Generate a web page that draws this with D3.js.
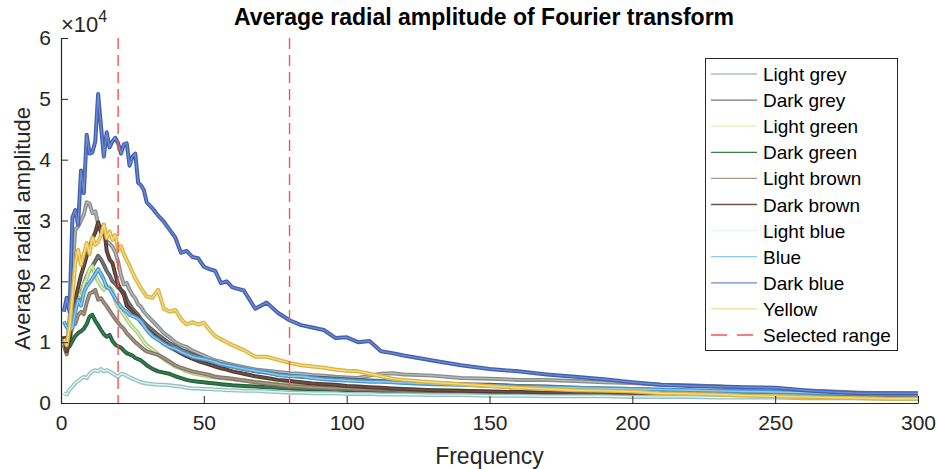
<!DOCTYPE html>
<html>
<head>
<meta charset="utf-8">
<script src="https://cdn.jsdelivr.net/npm/d3@7"></script>
<style>
  body { margin: 0; background: #fff; }
  svg { font-family: "Liberation Sans", Arial, sans-serif; }
  .line { fill: none; stroke-linejoin: round; }
</style>
</head>
<body>
<script>
// frequency samples (shared by every series)
var freq = [1,2,3,4,5,6,7,8,9,10,11,12,13,14,15,16,17,18,19,20,21,22,23,24,25,26,27,28,29,30,
  32,34,36,38,40,42,44,46,48,50,52,54,56,58,60,
  64,68,72,76,80,84,88,92,96,100,104,108,112,116,120,
  130,140,150,160,170,180,190,200,210,220,230,240,250,260,270,280,290,300];

// average radial amplitude, in units of 1e4
var lightGrey = [1.0,0.9,1.4,2.2,2.85,2.9,3.0,3.1,3.3,3.28,3.12,3.15,2.95,2.88,2.78,2.66,2.62,2.57,2.48,2.32,2.1,1.95,1.97,1.86,1.78,1.72,1.62,1.58,1.5,1.45,
  1.35,1.25,1.15,1.08,1.0,0.95,0.92,0.86,0.82,0.78,0.74,0.7,0.68,0.65,0.63,
  0.59,0.55,0.53,0.51,0.49,0.48,0.46,0.45,0.43,0.42,0.41,0.45,0.48,0.49,0.47,
  0.45,0.41,0.4,0.38,0.38,0.36,0.34,0.33,0.3,0.29,0.27,0.24,0.22,0.2,0.19,0.17,0.16,0.15];
var darkGrey = [1.05,0.9,1.0,1.3,1.55,1.7,1.8,1.95,2.08,2.18,2.25,2.33,2.42,2.36,2.27,2.17,2.1,2.0,1.96,1.9,1.86,1.82,1.7,1.62,1.55,1.5,1.45,1.38,1.33,1.28,
  1.2,1.12,1.05,0.98,0.93,0.88,0.84,0.8,0.76,0.72,0.7,0.67,0.64,0.62,0.6,
  0.56,0.52,0.5,0.47,0.45,0.43,0.42,0.41,0.4,0.39,0.38,0.37,0.36,0.35,0.35,
  0.33,0.31,0.3,0.28,0.27,0.25,0.24,0.23,0.21,0.2,0.19,0.18,0.17,0.16,0.15,0.14,0.13,0.12];
var lightGreen = [1.0,0.85,1.0,1.3,1.6,1.8,1.75,1.95,2.05,2.2,2.25,2.1,2.0,1.92,1.86,1.94,1.9,1.84,1.68,1.58,1.52,1.45,1.38,1.31,1.25,1.2,1.15,1.08,1.0,0.95,
  0.88,0.8,0.72,0.66,0.6,0.57,0.52,0.49,0.47,0.45,0.43,0.42,0.41,0.4,0.39,
  0.37,0.35,0.33,0.31,0.3,0.29,0.28,0.27,0.26,0.25,0.25,0.24,0.23,0.23,0.22,
  0.21,0.2,0.19,0.18,0.17,0.16,0.15,0.14,0.14,0.13,0.12,0.12,0.11,0.11,0.1,0.1,0.09,0.09];
var darkGreen = [1.09,1.0,0.93,1.02,1.1,1.15,1.18,1.22,1.3,1.42,1.45,1.35,1.28,1.2,1.13,1.09,1.12,1.02,0.96,0.93,0.91,0.86,0.82,0.8,0.78,0.74,0.72,0.7,0.66,0.62,
  0.56,0.52,0.5,0.48,0.44,0.41,0.38,0.36,0.35,0.34,0.33,0.32,0.31,0.3,0.29,
  0.28,0.27,0.26,0.25,0.24,0.23,0.22,0.22,0.21,0.21,0.2,0.2,0.19,0.19,0.18,
  0.17,0.16,0.15,0.15,0.14,0.13,0.13,0.12,0.12,0.11,0.11,0.1,0.1,0.1,0.09,0.09,0.09,0.08];
var lightBrown = [0.95,0.8,1.1,1.4,1.3,1.45,1.5,1.46,1.65,1.8,1.82,1.86,1.7,1.72,1.65,1.59,1.52,1.45,1.38,1.32,1.26,1.22,1.15,1.1,1.05,1.0,0.96,0.92,0.88,0.85,
  0.82,0.79,0.74,0.68,0.62,0.58,0.55,0.52,0.5,0.48,0.46,0.43,0.42,0.41,0.4,
  0.37,0.34,0.32,0.3,0.28,0.27,0.26,0.25,0.24,0.24,0.23,0.23,0.22,0.22,0.21,
  0.2,0.19,0.18,0.17,0.16,0.15,0.14,0.13,0.13,0.12,0.11,0.11,0.1,0.1,0.09,0.09,0.08,0.08];
var darkBrown = [1.1,0.85,1.05,1.4,1.7,1.9,2.1,2.25,2.42,2.55,2.7,2.8,2.97,2.8,2.93,2.5,2.36,2.3,2.12,1.95,1.85,1.78,1.6,1.55,1.5,1.45,1.4,1.33,1.28,1.22,
  1.13,1.06,0.98,0.92,0.87,0.82,0.77,0.73,0.69,0.66,0.63,0.6,0.57,0.55,0.52,
  0.48,0.44,0.41,0.38,0.36,0.34,0.32,0.31,0.3,0.28,0.27,0.26,0.25,0.24,0.23,
  0.21,0.2,0.19,0.18,0.17,0.16,0.15,0.14,0.13,0.12,0.12,0.11,0.1,0.1,0.09,0.09,0.08,0.08];
var lightBlue = [0.16,0.14,0.22,0.27,0.33,0.36,0.4,0.43,0.41,0.48,0.52,0.54,0.52,0.56,0.52,0.54,0.52,0.49,0.46,0.43,0.48,0.47,0.45,0.42,0.4,0.38,0.36,0.34,0.33,0.32,
  0.31,0.3,0.3,0.29,0.28,0.27,0.25,0.24,0.24,0.23,0.23,0.22,0.22,0.21,0.21,
  0.2,0.2,0.19,0.18,0.17,0.17,0.16,0.16,0.16,0.15,0.15,0.15,0.14,0.14,0.14,
  0.13,0.13,0.12,0.12,0.11,0.11,0.11,0.1,0.1,0.1,0.09,0.09,0.09,0.08,0.08,0.08,0.07,0.07];
var blue = [1.34,1.25,1.2,1.23,1.5,1.69,1.6,1.82,1.92,1.98,2.05,2.12,2.2,2.12,2.03,1.9,1.88,1.8,1.72,1.65,1.58,1.53,1.5,1.45,1.43,1.41,1.38,1.34,1.27,1.2,
  1.1,1.04,0.97,0.92,0.89,0.84,0.8,0.76,0.74,0.72,0.7,0.67,0.64,0.62,0.6,
  0.56,0.53,0.5,0.46,0.44,0.44,0.41,0.39,0.38,0.37,0.36,0.35,0.35,0.34,0.33,
  0.31,0.3,0.28,0.27,0.26,0.25,0.24,0.23,0.22,0.21,0.2,0.19,0.18,0.17,0.16,0.15,0.15,0.14];
var darkBlue = [1.5,1.73,1.5,3.05,3.17,2.93,3.82,3.45,4.41,4.1,4.12,4.3,5.08,4.55,4.05,4.45,4.2,4.3,4.36,4.27,4.1,4.25,4.27,3.9,4.05,4.1,3.62,3.58,3.5,3.3,
  3.2,3.08,2.98,2.85,2.72,2.47,2.5,2.4,2.38,2.24,2.2,2.17,1.97,2.0,1.9,
  1.85,1.55,1.65,1.48,1.36,1.28,1.24,1.2,1.07,1.08,1.0,1.02,0.85,0.82,0.78,
  0.7,0.62,0.56,0.52,0.47,0.43,0.39,0.34,0.3,0.28,0.27,0.26,0.25,0.21,0.18,0.16,0.16,0.16];
var yellow = [1.05,0.95,1.25,1.75,2.3,2.52,2.27,2.45,2.63,2.45,2.72,2.6,2.65,2.76,2.93,2.71,2.82,2.68,2.76,2.52,2.58,2.45,2.35,2.26,2.15,2.05,1.97,1.89,1.82,1.75,
  1.73,1.86,1.55,1.5,1.53,1.38,1.29,1.33,1.29,1.32,1.2,1.1,1.05,1.0,0.95,
  0.87,0.76,0.76,0.71,0.66,0.62,0.6,0.58,0.55,0.53,0.52,0.48,0.44,0.4,0.38,
  0.34,0.31,0.28,0.25,0.23,0.21,0.2,0.19,0.16,0.15,0.14,0.12,0.11,0.1,0.09,0.08,0.07,0.07];

var names = ["Light grey","Dark grey","Light green","Dark green","Light brown","Dark brown","Light blue","Blue","Dark blue","Yellow"];
var seriesValues = [lightGrey, darkGrey, lightGreen, darkGreen, lightBrown, darkBrown, lightBlue, blue, darkBlue, yellow];
var outerColors = ["#8a8c8c","#5c5c5c","#a8cc80","#24603a","#857565","#553a30","#98c0c0","#4a98d0","#4060b0","#d8b540"];
var innerColors = ["#b0bcb8","#7a7a7a","#e0f0b8","#3a7e50","#a89888","#6e5248","#e0f6f6","#90c8ee","#7088cc","#f4dc88"];

var selectedRange = [20, 80];
var xTicks = [0,50,100,150,200,250,300];
var yTicks = [0,1,2,3,4,5,6];

var W = 936, H = 469;
var pLeft = 61, pRight = 918, pTop = 38, pBottom = 403;

var svg = d3.select("body").append("svg")
    .attr("width", W)
    .attr("height", H);

var x = d3.scaleLinear().domain([0, 300]).range([pLeft, pRight]);
var y = d3.scaleLinear().domain([0, 6]).range([pBottom, pTop]);

svg.append("clipPath").attr("id", "clip")
  .append("rect")
    .attr("x", pLeft).attr("y", pTop - 5)
    .attr("width", pRight - pLeft).attr("height", pBottom - pTop + 5);

var line = d3.line()
    .x(function(d) { return x(d[0]); })
    .y(function(d) { return y(d[1]); });

var plot = svg.append("g").attr("clip-path", "url(#clip)");

seriesValues.forEach(function(vals, i) {
  var pts = freq.map(function(f, j) { return [f, vals[j]]; });
  plot.append("path")
      .datum(pts)
      .attr("class", "line")
      .attr("stroke", outerColors[i])
      .attr("stroke-width", 4)
      .attr("d", line);
  plot.append("path")
      .datum(pts)
      .attr("class", "line")
      .attr("stroke", innerColors[i])
      .attr("stroke-width", 1.4)
      .attr("d", line);
});

// selected range markers
selectedRange.forEach(function(f) {
  svg.append("line")
      .attr("x1", x(f)).attr("x2", x(f))
      .attr("y1", pTop).attr("y2", pBottom)
      .attr("stroke", "#f25555")
      .attr("stroke-width", 1.4)
      .attr("stroke-dasharray", "11,6");
});

// axes
var xAxis = svg.append("g")
    .attr("transform", "translate(0," + pBottom + ")")
    .call(d3.axisBottom(x).tickValues(xTicks).tickSizeInner(-7).tickSizeOuter(0).tickPadding(12));
var yAxis = svg.append("g")
    .attr("transform", "translate(" + pLeft + ",0)")
    .call(d3.axisLeft(y).tickValues(yTicks).tickSizeInner(-7).tickSizeOuter(0).tickPadding(10).tickFormat(d3.format("d")));

[xAxis, yAxis].forEach(function(a) {
  a.select(".domain").attr("stroke", "#262626").attr("stroke-width", 1.2);
  a.selectAll(".tick line").attr("stroke", "#262626");
  a.selectAll(".tick text")
      .attr("fill", "#262626")
      .style("font-size", "21px")
      .style("font-family", "'Liberation Sans', Arial, sans-serif");
});

// exponent label
var expo = svg.append("text")
    .attr("x", 61).attr("y", 32)
    .attr("fill", "#262626")
    .style("font-size", "22px");
expo.append("tspan").text("\u00d710");
expo.append("tspan").attr("dy", -10).style("font-size", "16px").text("4");

// title and axis labels
svg.append("text")
    .attr("x", 484).attr("y", 25)
    .attr("text-anchor", "middle")
    .style("font-size", "23px")
    .style("font-weight", "bold")
    .attr("fill", "#000")
    .text("Average radial amplitude of Fourier transform");

svg.append("text")
    .attr("x", (pLeft + pRight) / 2).attr("y", 464)
    .attr("text-anchor", "middle")
    .style("font-size", "23px")
    .attr("fill", "#262626")
    .text("Frequency");

svg.append("text")
    .attr("transform", "translate(30," + ((pTop + pBottom) / 2 + 8) + ") rotate(-90)")
    .attr("text-anchor", "middle")
    .style("font-size", "22px")
    .attr("fill", "#262626")
    .text("Average radial amplitude");

// legend
var lg = svg.append("g");
lg.append("rect")
    .attr("x", 705.5).attr("y", 58.5)
    .attr("width", 192).attr("height", 292)
    .attr("fill", "#fff")
    .attr("stroke", "#262626")
    .attr("stroke-width", 1);

var legendNames = names.concat(["Selected range"]);
legendNames.forEach(function(n, i) {
  var ly = 74 + i * 26.1;
  var l = lg.append("line")
      .attr("x1", 711).attr("x2", 757)
      .attr("y1", ly).attr("y2", ly);
  if (i < names.length) {
    l.attr("stroke", innerColors[i]).attr("stroke-width", 1.3);
  } else {
    l.attr("stroke", "#f25555").attr("stroke-width", 1.4).attr("stroke-dasharray", "16,10");
  }
  lg.append("text")
      .attr("x", 763).attr("y", ly + 7)
      .style("font-size", "19px")
      .attr("fill", "#000")
      .text(n);
});
</script>
</body>
</html>
